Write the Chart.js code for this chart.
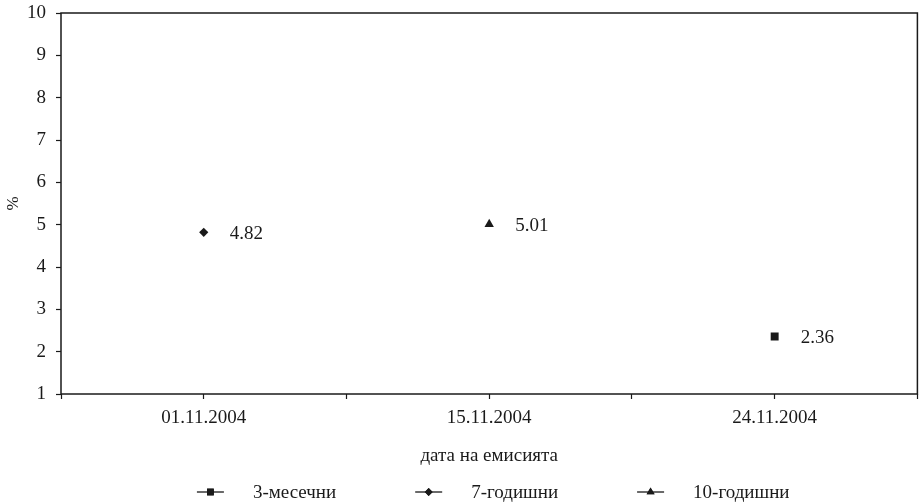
<!DOCTYPE html>
<html>
<head>
<meta charset="utf-8">
<script src="https://cdn.jsdelivr.net/npm/chart.js@4.4.1/dist/chart.umd.min.js"></script>
<style>
  html, body { margin: 0; padding: 0; background: #fff; }
  #wrap { width: 923px; height: 504px; position: relative; }
</style>
</head>
<body>
<div id="wrap"><canvas id="c"></canvas></div>
<script>
// ---- data ----
const categories = ['01.11.2004', '15.11.2004', '24.11.2004'];
const seriesNames = ['3-месечни', '7-годишни', '10-годишни'];
const values3m = [null, null, 2.36];
const values7y = [4.82, null, null];
const values10y = [null, 5.01, null];
const yTicks = [1, 2, 3, 4, 5, 6, 7, 8, 9, 10];
const xTitle = 'дата на емисията';
const yTitle = '%';

const FONT = "'Liberation Serif', 'Times New Roman', serif";
const FS = 19;
const INK = '#1a1a1a';

function toPoints(vals) {
  return vals.map((v, i) => ({ x: i + 0.5, y: v })).filter(p => p.y !== null);
}

const styles = [
  { pointStyle: 'rect', radius: 5.6 },
  { pointStyle: 'rectRot', radius: 4.6 },
  { pointStyle: 'triangle', radius: 5.4 }
];
const seriesValues = [values3m, values7y, values10y];

const datasets = seriesNames.map((name, i) => ({
  label: name,
  data: toPoints(seriesValues[i]),
  pointStyle: styles[i].pointStyle,
  pointRadius: styles[i].radius,
  pointHoverRadius: styles[i].radius,
  backgroundColor: INK,
  borderColor: INK,
  borderWidth: 0,
  showLine: false
}));

const frame = {
  id: 'frame',
  afterDraw(chart) {
    const { ctx, chartArea: a } = chart;
    ctx.save();
    ctx.strokeStyle = INK;
    ctx.lineWidth = 1.5;
    ctx.strokeRect(a.left, a.top, a.right - a.left, a.bottom - a.top);
    ctx.restore();
  }
};

const valueLabels = {
  id: 'valueLabels',
  afterDatasetsDraw(chart) {
    const { ctx } = chart;
    ctx.save();
    ctx.font = FS + 'px ' + FONT;
    ctx.fillStyle = INK;
    ctx.textAlign = 'left';
    ctx.textBaseline = 'middle';
    chart.data.datasets.forEach((ds, di) => {
      const meta = chart.getDatasetMeta(di);
      meta.data.forEach((el, j) => {
        const v = ds.data[j].y;
        ctx.fillText(v.toFixed(2), el.x + 26, el.y + 2);
      });
    });
    ctx.restore();
  }
};

const lineLegend = {
  id: 'lineLegend',
  afterDraw(chart) {
    const { ctx, chartArea: a } = chart;
    ctx.save();
    ctx.font = FS + 'px ' + FONT;
    const symW = 27, gap = 29, itemGap = 79;
    const widths = seriesNames.map(n => symW + gap + ctx.measureText(n).width);
    const total = widths.reduce((s, w) => s + w, 0) + itemGap * (widths.length - 1);
    let x = (a.left + a.right) / 2 - total / 2 + 4;
    const y = 492;
    seriesNames.forEach((name, i) => {
      ctx.strokeStyle = INK;
      ctx.lineWidth = 1.3;
      ctx.beginPath();
      ctx.moveTo(x, y);
      ctx.lineTo(x + symW, y);
      ctx.stroke();
      Chart.helpers.drawPoint(ctx, {
        pointStyle: styles[i].pointStyle,
        radius: styles[i].radius * 0.85,
        rotation: 0,
        borderWidth: 0
      }, x + symW / 2, y);
      ctx.fillStyle = INK;
      ctx.fill();
      ctx.fillStyle = INK;
      ctx.textAlign = 'left';
      ctx.textBaseline = 'middle';
      ctx.fillText(name, x + symW + gap, y + 1);
      x += widths[i] + itemGap;
    });
    ctx.restore();
  }
};

new Chart(document.getElementById('c'), {
  type: 'scatter',
  data: { datasets },
  options: {
    responsive: true,
    maintainAspectRatio: false,
    animation: false,
    layout: { padding: { top: 13, right: 3, bottom: 35, left: 0 } },
    plugins: {
      legend: { display: false },
      tooltip: { enabled: false }
    },
    scales: {
      x: {
        type: 'linear',
        min: 0,
        max: categories.length,
        afterBuildTicks(scale) {
          const t = [];
          for (let i = 0; i <= categories.length * 2; i++) t.push({ value: i / 2 });
          scale.ticks = t;
        },
        afterFit(scale) {
          scale.height = 75;
          scale.paddingLeft = 0;
          scale.paddingRight = 0;
        },
        grid: {
          drawOnChartArea: false,
          drawTicks: true,
          tickLength: 5,
          color: INK,
          tickColor: INK,
          tickWidth: 1.2
        },
        border: { display: false },
        ticks: {
          autoSkip: false,
          maxRotation: 0,
          padding: 8,
          color: INK,
          font: { family: FONT, size: FS },
          callback(value) {
            const k = value - 0.5;
            return Number.isInteger(k) && categories[k] ? categories[k] : '';
          }
        },
        title: {
          display: true,
          text: xTitle,
          color: INK,
          font: { family: FONT, size: FS },
          padding: { top: 0, bottom: 2 }
        }
      },
      y: {
        type: 'linear',
        min: yTicks[0],
        max: yTicks[yTicks.length - 1],
        afterBuildTicks(scale) {
          scale.ticks = yTicks.map(v => ({ value: v }));
        },
        afterFit(scale) {
          scale.width = 61;
          scale.paddingTop = 0;
          scale.paddingBottom = 0;
        },
        grid: {
          drawOnChartArea: false,
          drawTicks: true,
          tickLength: 5,
          tickColor: INK,
          tickWidth: 1.2
        },
        border: { display: false },
        ticks: {
          padding: 10,
          color: INK,
          font: { family: FONT, size: FS }
        },
        title: {
          display: true,
          text: yTitle,
          color: INK,
          font: { family: FONT, size: 17 },
          padding: { top: 3, bottom: 0 }
        }
      }
    }
  },
  plugins: [frame, valueLabels, lineLegend]
});
</script>
</body>
</html>
